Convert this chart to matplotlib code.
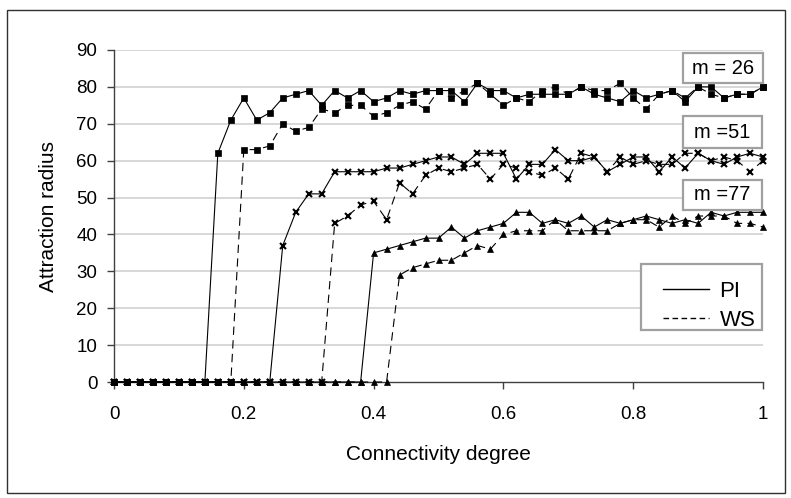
import numpy as np
import matplotlib
matplotlib.use("Agg")
import matplotlib.pyplot as plt
from matplotlib.patches import Rectangle
from matplotlib.lines import Line2D

plt.rcParams['font.family'] = ['Liberation Sans', 'DejaVu Sans']

# ---------------- data ----------------
connectivity = np.linspace(0, 1, 51)

pi_m26 = [0] * 8 + [62, 71, 77, 71, 73, 77, 78, 79, 75, 79, 77, 79, 76, 77, 79,
                    78, 79, 79, 79, 76, 81, 79, 79, 77, 78, 78, 78, 78, 80, 78,
                    77, 76, 79, 77, 78, 79, 76, 80, 80, 77, 78, 78, 80]
ws_m26 = [0] * 10 + [63, 63, 64, 70, 68, 69, 74, 73, 75, 75, 72, 73, 75, 76, 74,
                     79, 77, 79, 81, 78, 75, 77, 76, 79, 80, 78, 80, 79, 79, 81,
                     77, 74, 78, 79, 77, 80, 78, 77, 78, 78, 80]
pi_m51 = [0] * 13 + [37, 46, 51, 51, 57, 57, 57, 57, 58, 58, 59, 60, 61, 61, 59,
                     62, 62, 62, 55, 59, 59, 63, 60, 60, 61, 57, 59, 61, 61, 57,
                     61, 58, 62, 60, 59, 61, 62, 61]
ws_m51 = [0] * 17 + [43, 45, 48, 49, 44, 54, 51, 56, 58, 57, 58, 59, 55, 59, 58,
                     57, 56, 58, 55, 62, 61, 57, 61, 59, 60, 59, 59, 62, 62, 60,
                     61, 60, 57, 60]
pi_m77 = [0] * 20 + [35, 36, 37, 38, 39, 39, 42, 39, 41, 42, 43, 46, 46, 43, 44,
                     43, 45, 42, 44, 43, 44, 45, 44, 43, 44, 43, 46, 45, 46, 46,
                     46]
ws_m77 = [0] * 22 + [29, 31, 32, 33, 33, 35, 37, 36, 40, 41, 41, 41, 44, 41, 41,
                     41, 41, 43, 44, 44, 42, 45, 43, 45, 45, 45, 43, 43, 42]

x_ticks = [0, 0.2, 0.4, 0.6, 0.8, 1.0]
x_tick_labels = ["0", "0.2", "0.4", "0.6", "0.8", "1"]
y_ticks = list(range(0, 91, 10))
box_labels = ["m = 26", "m =51", "m =77"]
legend_labels = ["PI", "WS"]

# ---------------- figure ----------------
W, H = 791, 498
fig = plt.figure(figsize=(W / 100, H / 100), dpi=100)


def fx(px):
    return px / W


def fy(py):
    return 1 - py / H


ax = fig.add_axes([fx(114), fy(382), 649 / W, 332 / H])
ax.set_xlim(0, 1)
ax.set_ylim(0, 90)

for y in y_ticks[1:]:
    ax.axhline(y, color='#d4d4d4', lw=1.3, zorder=0)

series = [
    (pi_m26, 's', 4.5, '-'),
    (ws_m26, 's', 4.5, '--'),
    (pi_m51, 'x', 4.2, '-'),
    (ws_m51, 'x', 4.2, '--'),
    (pi_m77, '^', 4.8, '-'),
    (ws_m77, '^', 4.8, '--'),
]
for vals, mk, ms, ls in series:
    line, = ax.plot(connectivity, vals, color='black', lw=0.8, linestyle=ls,
                    marker=mk, markersize=ms,
                    markeredgewidth=1.5 if mk == 'x' else 0.5,
                    markerfacecolor='black', markeredgecolor='black',
                    clip_on=False, zorder=3)
    if ls == '--':
        line.set_dashes((7.5, 4.8))

for s in ['top', 'right']:
    ax.spines[s].set_visible(False)
for s in ['left', 'bottom']:
    ax.spines[s].set_color('#404040')
    ax.spines[s].set_linewidth(1.0)

ax.set_xticks(x_ticks)
ax.set_xticklabels(x_tick_labels)
ax.set_yticks(y_ticks)
ax.tick_params(axis='y', direction='out', length=5, width=1, pad=7,
               labelsize=13.5, color='#404040')
ax.tick_params(axis='x', direction='out', length=5, width=1, pad=12,
               labelsize=13.5, color='#404040')

ax.set_xlabel("Connectivity degree", fontsize=15)
ax.xaxis.set_label_coords(0.5, (382 - 445) / 332)
ax.set_ylabel("Attraction radius", fontsize=15)
ax.yaxis.set_label_coords((58 - 114) / 649, 0.5)

# m labels
box_rects = [(683, 53, 763, 83), (683, 116, 762, 148), (683, 180, 762, 210)]
for (x0, y0, x1, y1), lab in zip(box_rects, box_labels):
    fig.patches.append(Rectangle((fx(x0), fy(y1)), (x1 - x0) / W, (y1 - y0) / H,
                                 transform=fig.transFigure, fill=True,
                                 facecolor='white', edgecolor='#a0a0a0', lw=1.6,
                                 zorder=5))
    fig.text(fx((x0 + x1) / 2), fy((y0 + y1) / 2), lab, ha='center', va='center',
             fontsize=14.5, zorder=6)

# legend
handles = [Line2D([], [], color='black', lw=1.0, linestyle='-'),
           Line2D([], [], color='black', lw=1.0, linestyle='--', dashes=(4, 2.5))]
fig.patches.append(Rectangle((fx(641), fy(330)), 121 / W, 66 / H,
                             transform=fig.transFigure, facecolor='white',
                             edgecolor='#a0a0a0', lw=1.6, zorder=5))
leg = fig.legend(handles, legend_labels, loc='upper left',
                 bbox_to_anchor=(fx(645), fy(263)), bbox_transform=fig.transFigure,
                 frameon=False, fontsize=16, handlelength=2.1,
                 handletextpad=0.45, labelspacing=0.35, borderpad=0.3)
leg.set_zorder(7)

# outer border
fig.patches.append(Rectangle((fx(7), fy(493)), (785 - 7) / W, (493 - 10) / H,
                             transform=fig.transFigure, fill=False,
                             edgecolor='#303030', lw=1.0))

fig.savefig("out.png", dpi=100)
